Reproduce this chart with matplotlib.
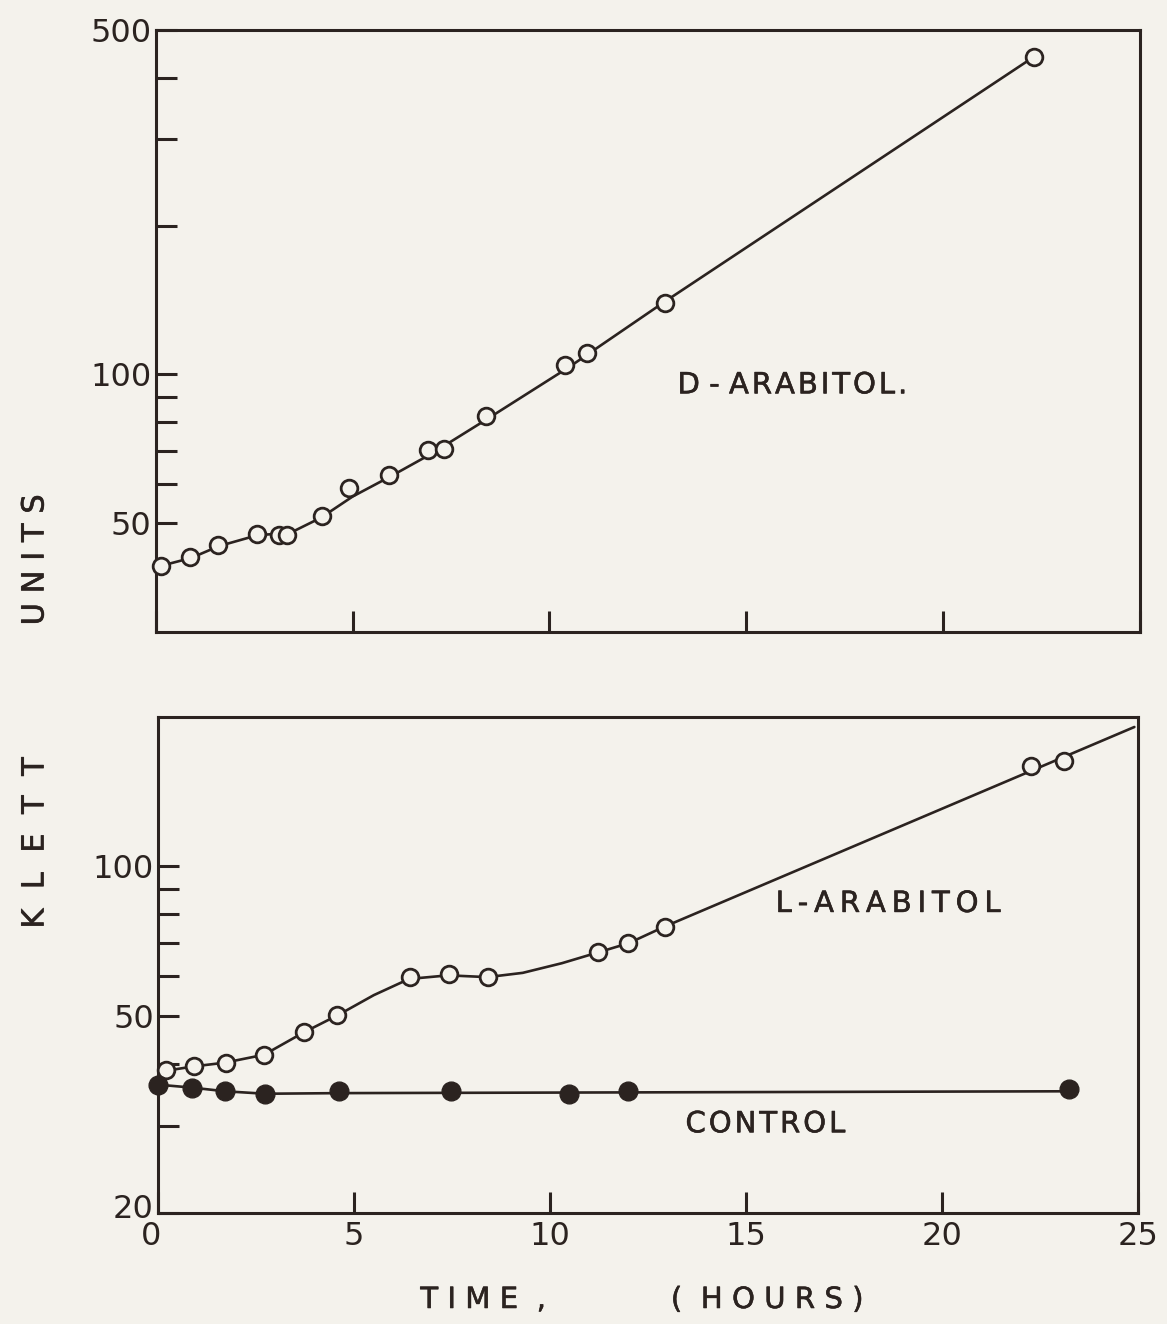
import numpy as np
import matplotlib
matplotlib.use("Agg")
import matplotlib.pyplot as plt
import matplotlib.transforms as mtransforms
import matplotlib.patheffects as pe
from matplotlib.ticker import FixedLocator, FixedFormatter, NullFormatter

# D-arabitol (top panel) - measured points
d_time = [0.13, 0.87, 1.58, 2.58, 3.14, 3.34, 4.21, 4.9, 5.92, 6.91, 7.32, 8.39, 10.4, 10.94, 12.93, 22.3]
d_klett = [40.9, 42.5, 45.0, 47.5, 47.3, 47.3, 51.6, 58.8, 62.5, 70.2, 70.5, 82.2, 104.7, 110.3, 139.8, 441]
# hand-drawn curve through them
d_curve_t = [0.0, 0.9, 1.6, 2.6, 3.4, 4.2, 5.0, 6.0, 7.0, 8.4, 10.5, 12.9, 22.3]
d_curve_y = [40.6, 42.4, 44.8, 47.2, 47.6, 51.2, 56.5, 62.3, 69.0, 81.0, 103.5, 140.0, 441]

# L-arabitol (bottom panel)
l_time = [0.2, 0.92, 1.73, 2.70, 3.72, 4.57, 6.43, 7.42, 8.42, 11.22, 11.99, 12.93, 22.27, 23.1]
l_klett = [38.9, 39.6, 40.2, 41.7, 46.4, 50.2, 59.8, 60.7, 59.8, 67.2, 70.0, 75.5, 159.6, 163.2]
l_curve_t = [0.0, 0.9, 1.7, 2.7, 3.7, 4.6, 5.5, 6.4, 7.4, 8.4, 9.3, 10.3, 11.2, 12.0, 12.9, 24.9]
l_curve_y = [38.5, 39.5, 40.2, 41.7, 46.2, 50.2, 55.0, 59.3, 60.3, 59.8, 61.0, 63.8, 67.0, 70.0, 75.5, 191]

# control (no carbon source)
c_time = [0.0, 0.87, 1.71, 2.73, 4.62, 7.47, 10.48, 11.99, 23.24]
c_klett = [36.3, 35.8, 35.2, 34.8, 35.2, 35.2, 34.7, 35.2, 35.5]
c_curve_t = [0.0, 0.87, 1.71, 2.73, 4.62, 23.24]
c_curve_y = [36.3, 35.8, 35.2, 34.8, 34.9, 35.2]

x_ticks = [0, 5, 10, 15, 20, 25]
top_major = [50, 100, 500]
top_minor = [60, 70, 80, 90, 200, 300, 400]
bot_major = [20, 50, 100]
bot_minor = [30, 40, 60, 70, 80, 90]

ink = "#2b2320"
paper = "#f4f2ec"
heavy = [pe.withStroke(linewidth=0.4, foreground=ink)]

plt.rcParams["font.family"] = ["DejaVu Sans"]
plt.rcParams["text.color"] = ink

fig = plt.figure(figsize=(11.67, 13.24), dpi=100, facecolor=paper)
ax1 = fig.add_axes([0.1335, 0.5227, 0.8434, 0.4546])
ax2 = fig.add_axes([0.1355, 0.0838, 0.8399, 0.3746])


def style_axis(ax, major, minor, ylim, show_x):
    ax.set_facecolor(paper)
    ax.set_yscale("log")
    ax.set_xlim(0, 25)
    ax.set_ylim(*ylim)
    for s in ax.spines.values():
        s.set_color(ink)
        s.set_linewidth(2.2)
    ax.yaxis.set_major_locator(FixedLocator(major))
    ax.yaxis.set_major_formatter(FixedFormatter([str(v) for v in major]))
    ax.yaxis.set_minor_locator(FixedLocator(minor))
    ax.yaxis.set_minor_formatter(NullFormatter())
    ax.xaxis.set_major_locator(FixedLocator(x_ticks))
    ax.xaxis.set_minor_locator(FixedLocator([]))
    if show_x:
        ax.set_xticklabels([str(v) for v in x_ticks])
    else:
        ax.set_xticklabels([])
    ax.tick_params(axis="both", which="both", direction="in", colors=ink,
                   width=2.2, length=15, labelsize=23, pad=4)
    ax.tick_params(axis="y", which="both", pad=3)
    ax.tick_params(axis="x", pad=6)


style_axis(ax1, top_major, top_minor, (30, 500), False)
style_axis(ax2, bot_major, bot_minor, (20, 200), True)

# nudge the corner labels apart like in the original drawing
lab20 = ax2.yaxis.get_majorticklabels()[0]
lab20.set_transform(lab20.get_transform() + mtransforms.ScaledTranslation(0, 0.07, fig.dpi_scale_trans))
lab0 = ax2.xaxis.get_majorticklabels()[0]
lab0.set_transform(lab0.get_transform() + mtransforms.ScaledTranslation(-0.07, 0, fig.dpi_scale_trans))

ax1.plot(d_curve_t, d_curve_y, color=ink, lw=1.9, solid_capstyle="round", zorder=2)
ax1.plot(d_time, d_klett, "o", ms=12, mfc=paper, mec=ink, mew=2.0, zorder=3, clip_on=False)

ax2.plot(l_curve_t, l_curve_y, color=ink, lw=1.9, solid_capstyle="round", zorder=2)
ax2.plot(l_time, l_klett, "o", ms=12, mfc=paper, mec=ink, mew=2.0, zorder=3, clip_on=False)
ax2.plot(c_curve_t, c_curve_y, color=ink, lw=1.9, zorder=2)
ax2.plot(c_time, c_klett, "o", ms=13.5, mfc=ink, mec=ink, zorder=4, clip_on=False)

thin = "\u2009"
hair = "\u200a"
ax1.text(13.25, 95, "D - " + hair.join("ARABITOL."), fontsize=21,
         ha="left", va="center", color=ink, path_effects=heavy)
ax2.text(15.75, 84, thin.join("L-ARABITOL"), fontsize=21,
         ha="left", va="center", color=ink, path_effects=heavy)
ax2.text(13.45, 30.2, hair.join("CONTROL"), fontsize=21,
         ha="left", va="center", color=ink, path_effects=heavy)

fig.text(0.030, 1 - 560 / 1324, "U N I T S", rotation=90, fontsize=22,
         ha="center", va="center", color=ink, path_effects=heavy)
fig.text(0.030, 1 - 843 / 1324, "K  L  E  T  T", rotation=90, fontsize=22,
         ha="center", va="center", color=ink, path_effects=heavy)
fig.text(483 / 1167, 1 - 1300 / 1324, "T I M E  ,", fontsize=21,
         ha="center", va="center", color=ink, path_effects=heavy)
fig.text(767 / 1167, 1 - 1300 / 1324, "(  H O U R S )", fontsize=21,
         ha="center", va="center", color=ink, path_effects=heavy)

fig.savefig("out.png", dpi=100, facecolor=paper)
